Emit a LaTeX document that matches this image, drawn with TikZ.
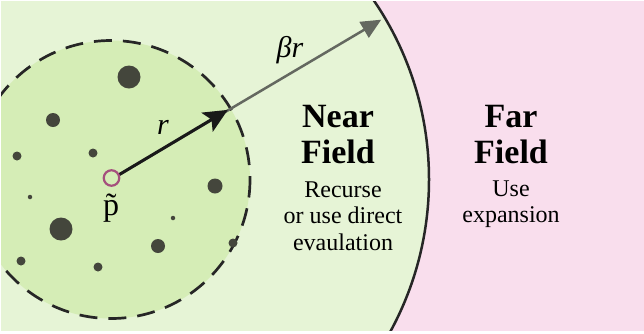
\documentclass[tikz,border=0pt]{standalone}
\usepackage{fontspec}
\setmainfont{Liberation Serif}
\usetikzlibrary{arrows.meta}
\definecolor{nearbg}{RGB}{230,244,214}
\definecolor{innerbg}{RGB}{213,237,182}
\definecolor{farbg}{RGB}{249,222,237}
\definecolor{dotc}{RGB}{68,70,60}
\definecolor{graya}{RGB}{100,104,96}
\definecolor{ringc}{RGB}{165,80,125}
\tikzset{
  dotp/.style={circle,fill=dotc,inner sep=0pt,minimum size=#1},
  title/.style={font=\fontsize{34}{36}\selectfont\bfseries,align=center},
  desc/.style={font=\fontsize{24}{26.5}\selectfont,align=center},
  mathlbl/.style={font=\fontsize{30}{30}\selectfont\itshape},
}
\begin{document}
\begin{tikzpicture}[x=1pt,y=-1pt]
\useasboundingbox (0,0) rectangle (644,333);
\fill[white] (0,0) rectangle (644,333);
\clip (1,1) rectangle (644,330);
\fill[farbg] (0,0) rectangle (644,333);
\coordinate (p) at (111,179.5);
\fill[nearbg] (p) circle[radius=318];
\draw[line width=2.5pt,black!85] (p) circle[radius=318];
\fill[innerbg] (p) circle[radius=139];
\draw[line width=2.7pt,black!85,dash pattern=on 18pt off 11pt] (p) circle[radius=139];
% dots
\node[dotp=23pt] (d1) at (129,77) {};
\node[dotp=14pt] (d2) at (53,120) {};
\node[dotp=9pt] (d3) at (17,156) {};
\node[dotp=9pt] (d4) at (93,153) {};
\node[dotp=4.5pt] (d5) at (30,197) {};
\node[dotp=15pt] (d6) at (215,186) {};
\node[dotp=23pt] (d7) at (61,229) {};
\node[dotp=4.5pt] (d8) at (173,218) {};
\node[dotp=14pt] (d9) at (158,246) {};
\node[dotp=9pt] (d10) at (233,243) {};
\node[dotp=9pt] (d11) at (21,261) {};
\node[dotp=9pt] (d12) at (98,267) {};
% arrows
\draw[graya,line width=2.5pt,-{Triangle[length=20pt,width=18pt]}] (p) -- ++(-30.6:314) coordinate (b);
\draw[black!90,line width=3pt,-{Stealth[length=24pt,width=22pt,inset=5pt]}] (p) -- ++(-30.8:136) coordinate (a);
\node[circle,draw=ringc,line width=2.2pt,fill=innerbg,minimum size=15.5pt,inner sep=0pt] (pc) at (111.5,178) {};
\node[font=\fontsize{32}{32}\selectfont] (pl) at (111,208) {\~{p}};
\node[mathlbl] (rl) at (163,127) {r};
\node[mathlbl] (brl) at (290,50) {βr};
\node[title] (nf) at (338,135) {Near\\Field};
\node[desc] (nd) at (343,216) {Recurse\\or use direct\\evaulation};
\node[title] (ff) at (511,135) {Far\\Field};
\node[desc] (fd) at (511,204) {Use\\expansion};
\end{tikzpicture}
\end{document}
